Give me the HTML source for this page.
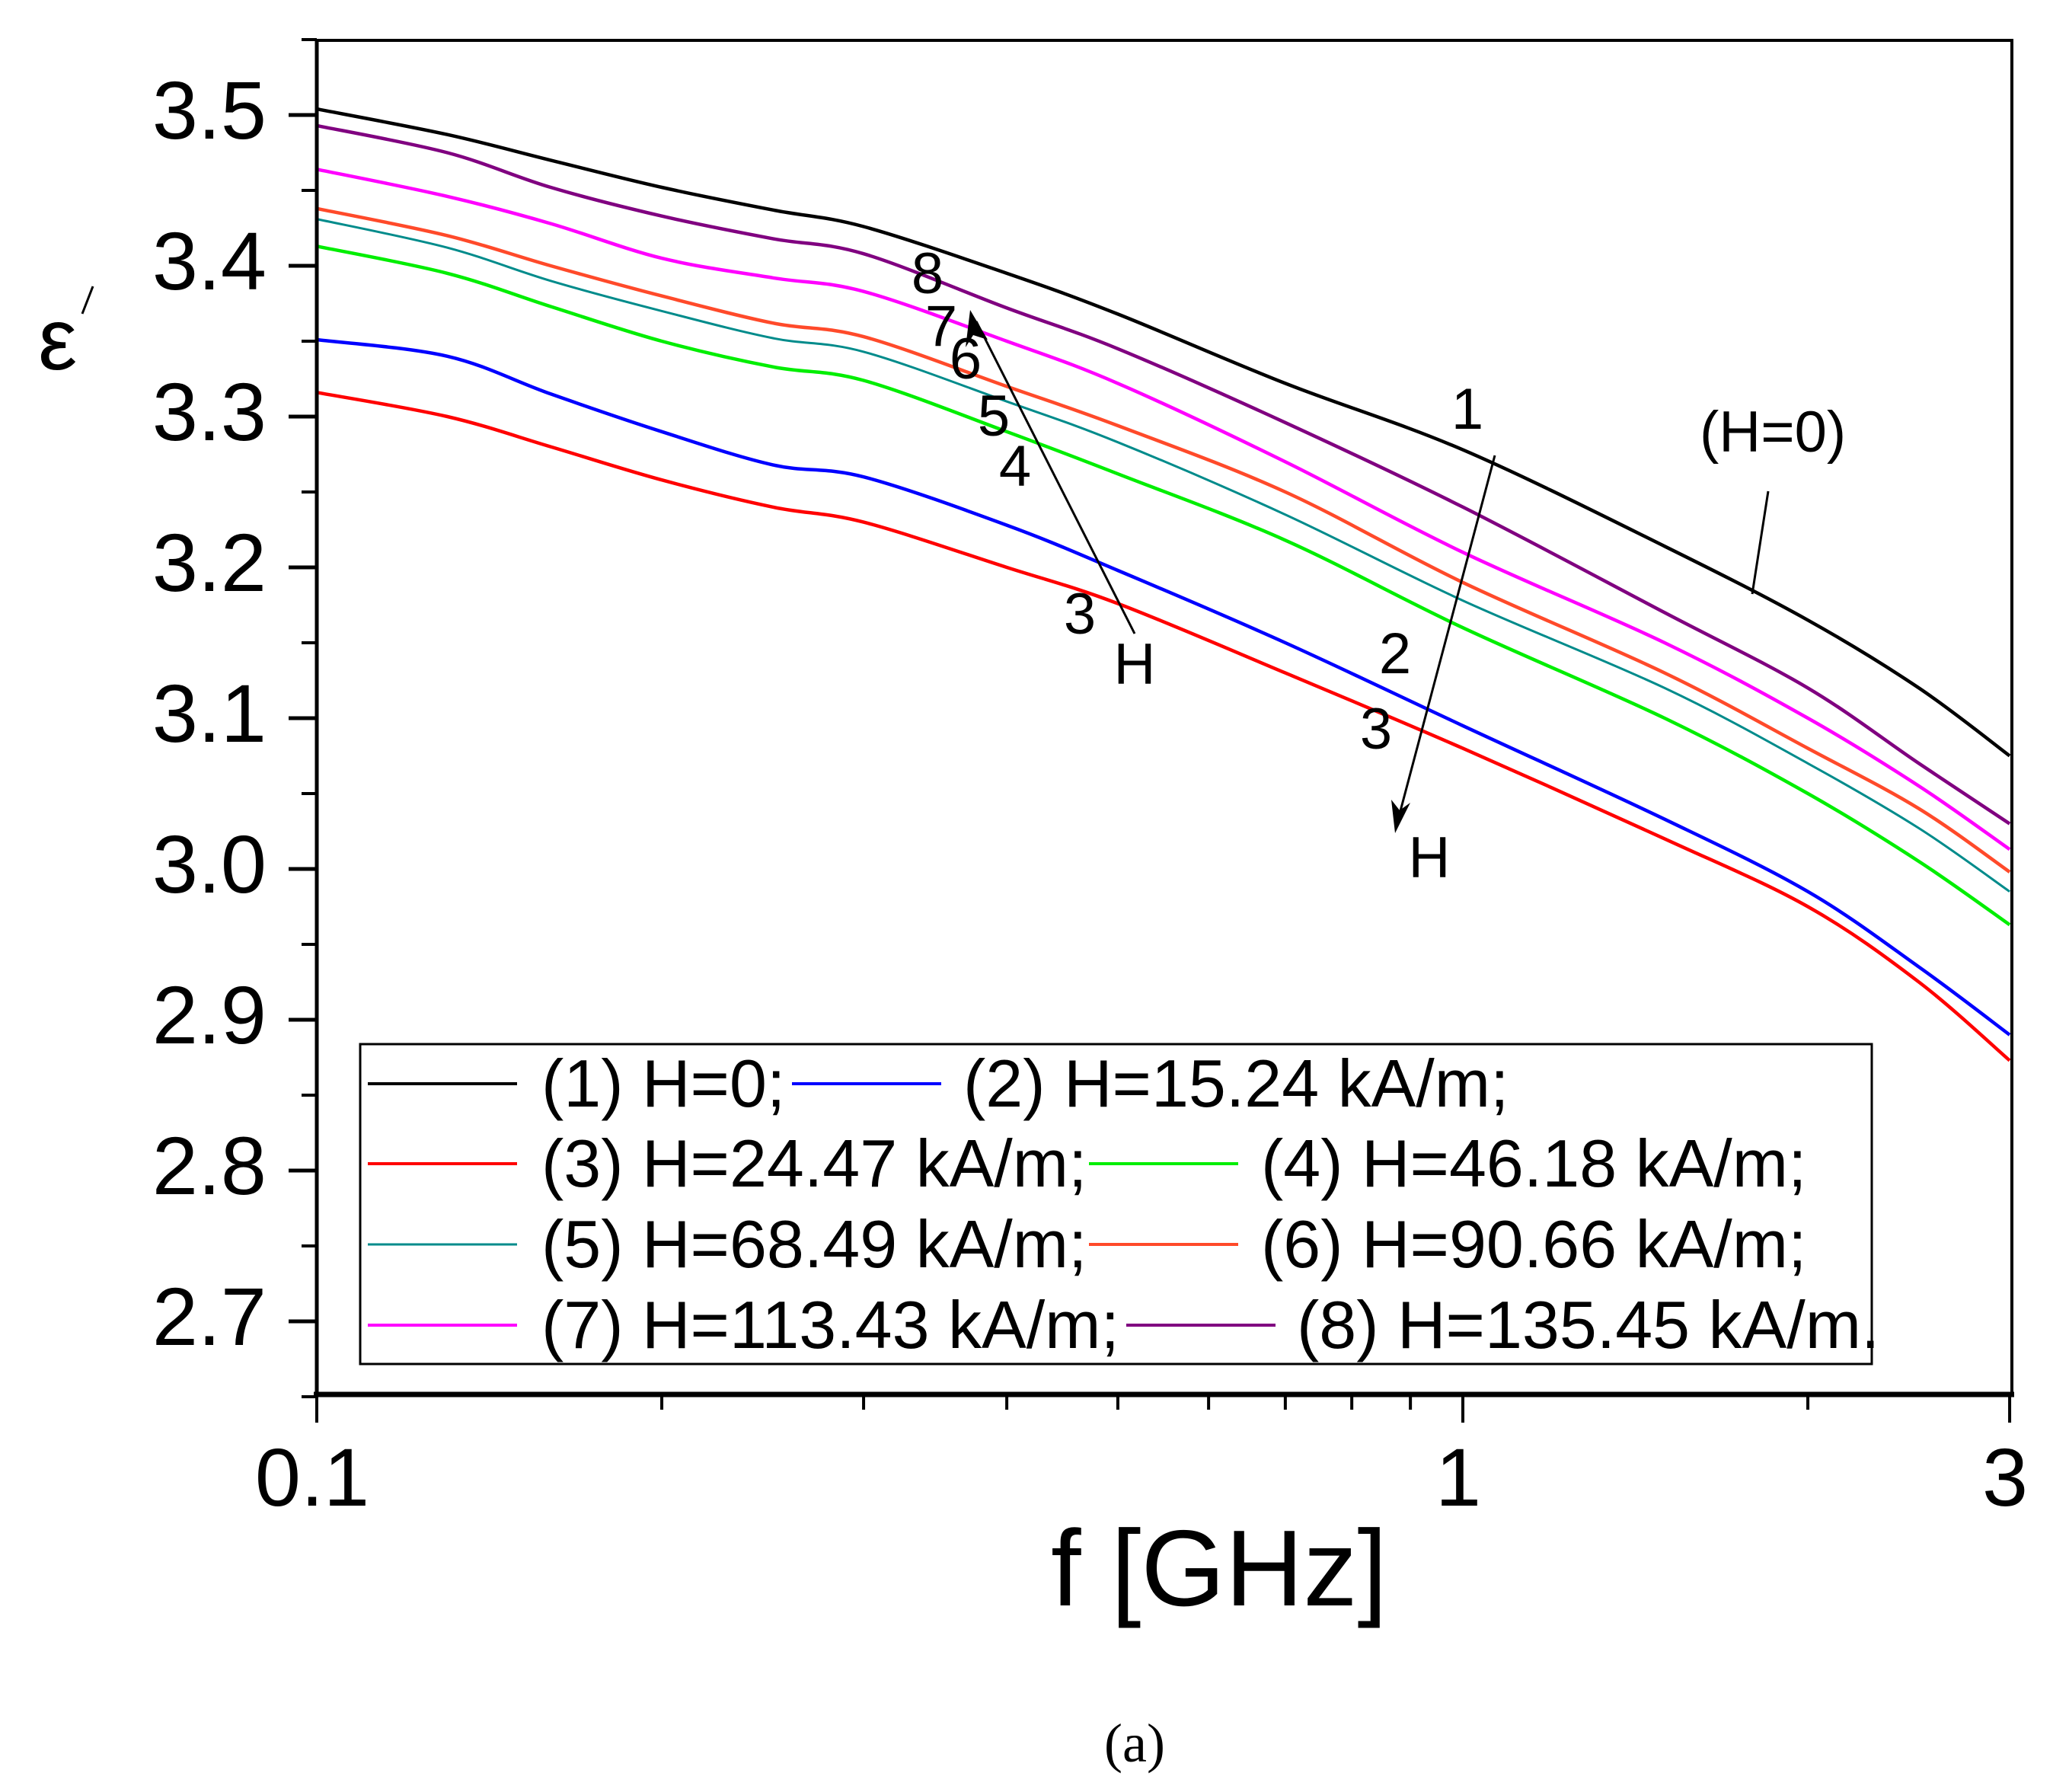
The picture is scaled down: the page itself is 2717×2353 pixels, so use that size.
<!DOCTYPE html>
<html><head><meta charset="utf-8"><style>
html,body{margin:0;padding:0;background:#fff}
svg{display:block}
text{font-family:"Liberation Sans",Arial,sans-serif;fill:#000}
</style></head><body>
<svg id="chart" width="2717" height="2353" viewBox="0 0 2717 2353" xmlns="http://www.w3.org/2000/svg">
<rect x="0" y="0" width="2717" height="2353" fill="#fff"/>
<g id="series"></g>
<g id="axes"></g>
<text x="50" y="485" font-size="115">ε</text>
<line x1="122" y1="376" x2="108" y2="412" stroke="#000" stroke-width="3"/>
<text x="1601" y="2108" font-size="142" text-anchor="middle">f [GHz]</text>
<text x="1490" y="2313" font-size="72" text-anchor="middle" style="font-family:'Liberation Serif',serif">(a)</text>
<g font-size="76">
<text x="1218" y="385" text-anchor="middle">8</text>
<text x="1236" y="454" text-anchor="middle">7</text>
<text x="1268" y="497" text-anchor="middle">6</text>
<text x="1305" y="572" text-anchor="middle">5</text>
<text x="1333" y="638" text-anchor="middle">4</text>
<text x="1418" y="832" text-anchor="middle">3</text>
<text x="1490" y="898" text-anchor="middle">H</text>
<text x="1927" y="563" text-anchor="middle">1</text>
<text x="1832" y="884" text-anchor="middle">2</text>
<text x="1807" y="983" text-anchor="middle">3</text>
<text x="1877" y="1152" text-anchor="middle">H</text>
<text x="2232" y="593">(H=0)</text>
<line x1="2322" y1="645" x2="2301" y2="780" stroke="#000" stroke-width="3"/>
<line x1="1490" y1="832" x2="1282" y2="422" stroke="#000" stroke-width="3"/>
<polygon points="1274,407 1297,446 1278,440 1268,456" fill="#000"/>
<line x1="1963" y1="598" x2="1836" y2="1076" stroke="#000" stroke-width="3"/>
<polygon points="1832,1094 1827,1050 1838,1064 1852,1054" fill="#000"/>
</g>
<g>
<rect x="473" y="1371" width="1985" height="420" fill="#fff" stroke="#000" stroke-width="3"/>
<g id="legend-items" font-size="88"></g>
</g>
</svg>
<script>
const freqs=[0.1,0.13,0.16,0.2,0.25,0.3,0.4,0.5,0.7,1,1.5,2,2.5,3];
const s1=[3.504,3.487,3.470,3.452,3.437,3.426,3.395,3.368,3.322,3.278,3.214,3.165,3.12,3.075];
const s2=[3.351,3.340,3.315,3.29,3.268,3.26,3.228,3.198,3.15,3.095,3.033,2.985,2.935,2.89];
const s3=[3.316,3.30,3.28,3.258,3.24,3.23,3.20,3.176,3.13,3.08,3.02,2.975,2.925,2.873];
const s4=[3.413,3.395,3.373,3.35,3.333,3.324,3.29,3.262,3.218,3.16,3.10,3.05,3.005,2.963];
const s5=[3.431,3.412,3.39,3.37,3.352,3.343,3.31,3.283,3.235,3.178,3.12,3.07,3.027,2.985];
const s6=[3.438,3.42,3.40,3.38,3.362,3.353,3.32,3.294,3.25,3.19,3.13,3.08,3.04,2.998];
const s7=[3.464,3.446,3.428,3.405,3.392,3.383,3.35,3.322,3.27,3.21,3.15,3.10,3.055,3.013];
const s8=[3.493,3.475,3.452,3.433,3.418,3.408,3.372,3.345,3.296,3.24,3.17,3.12,3.07,3.03];
const seriesLabels=["(1) H=0;","(2) H=15.24 kA/m;","(3) H=24.47 kA/m;","(4) H=46.18 kA/m;","(5) H=68.49 kA/m;","(6) H=90.66 kA/m;","(7) H=113.43 kA/m;","(8) H=135.45 kA/m."];
const yTicks=[2.7,2.8,2.9,3.0,3.1,3.2,3.3,3.4,3.5];
const yTickLabels=["2.7","2.8","2.9","3.0","3.1","3.2","3.3","3.4","3.5"];
const xTicks=[0.1,1,3];
const xTickLabels=["0.1","1","3"];
const xMinor=[0.2,0.3,0.4,0.5,0.6,0.7,0.8,0.9,2];

const NS="http://www.w3.org/2000/svg";
const L=416,R=2642,T=53,B=1831;
const X=f=>L+Math.log10(f/0.1)*1505;
const Y=v=>151+(3.5-v)*1980;
const colors=["#000000","#0000ff","#ff0000","#00ee00","#008b8b","#ff4a2a","#ff00ff","#800080"];
const allSeries=[s1,s2,s3,s4,s5,s6,s7,s8];
function mk(tag,attrs,parent){const e=document.createElementNS(NS,tag);for(const k in attrs)e.setAttribute(k,attrs[k]);parent.appendChild(e);return e;}
function pathFor(vals){
  const p=freqs.map((f,i)=>[X(f),Y(vals[i])]);
  let d="M"+p[0][0].toFixed(1)+","+p[0][1].toFixed(1);
  for(let i=0;i<p.length-1;i++){
    const p0=p[Math.max(0,i-1)],p1=p[i],p2=p[i+1],p3=p[Math.min(p.length-1,i+2)];
    const c1=[p1[0]+(p2[0]-p0[0])/6,p1[1]+(p2[1]-p0[1])/6];
    const c2=[p2[0]-(p3[0]-p1[0])/6,p2[1]-(p3[1]-p1[1])/6];
    d+=" C"+c1.map(v=>v.toFixed(1))+" "+c2.map(v=>v.toFixed(1))+" "+p2.map(v=>v.toFixed(1));
  }
  return d;
}
const sg=document.getElementById("series");
allSeries.forEach((s,i)=>{
  const e=mk("path",{d:pathFor(s),fill:"none",stroke:colors[i],"stroke-width":(i===4?3:4.5)},sg);
  
  
});
const ag=document.getElementById("axes");
const frame=mk("path",{d:`M${L},${T} H${R} V${B} H${L} Z`,fill:"none",stroke:"#000","stroke-width":4},ag);


const xa=mk("line",{x1:L-4,y1:B,x2:R+3,y2:B,stroke:"#000","stroke-width":7},ag);


const ya=mk("line",{x1:L,y1:T,x2:L,y2:B,stroke:"#000","stroke-width":5},ag);


yTicks.forEach((v,i)=>{
  const t=mk("line",{x1:L-37,y1:Y(v),x2:L,y2:Y(v),stroke:"#000","stroke-width":5},ag);
  
  
  const m=mk("line",{x1:L-20,y1:Y(v+0.05),x2:L,y2:Y(v+0.05),stroke:"#000","stroke-width":4},ag);
  
  
  const tx=mk("text",{x:350,y:Y(v)+31,"font-size":108,"text-anchor":"end"},ag);
  tx.textContent=yTickLabels[i];
  
  
});
const mb=mk("line",{x1:L-20,y1:Y(2.65),x2:L,y2:Y(2.65),stroke:"#000","stroke-width":4},ag);


xTicks.forEach((f,i)=>{
  const t=mk("line",{x1:X(f),y1:B,x2:X(f),y2:B+37,stroke:"#000","stroke-width":4},ag);
  
  
  const tx=mk("text",{x:X(f)-6,y:1977,"font-size":108,"text-anchor":"middle"},ag);
  tx.textContent=xTickLabels[i];
  
  
});
xMinor.forEach(f=>{
  const t=mk("line",{x1:X(f),y1:B,x2:X(f),y2:B+20,stroke:"#000","stroke-width":4},ag);
  
  
});
const lg=document.getElementById("legend-items");
const legPos=[[483,711,1453],[1040,1265,1453],[483,711,1558],[1430,1656,1558],[483,711,1664],[1430,1656,1664],[483,711,1770],[1479,1703,1770]];
seriesLabels.forEach((lab,i)=>{
  const [lx,tx0,by]=legPos[i];
  const ln=mk("line",{x1:lx,y1:by-30,x2:lx+196,y2:by-30,stroke:colors[i],"stroke-width":(i===4?3:4)},lg);
  
  
  const tx=mk("text",{x:tx0,y:by},lg);
  tx.textContent=lab;
  
  
});
</script>
</body></html>
